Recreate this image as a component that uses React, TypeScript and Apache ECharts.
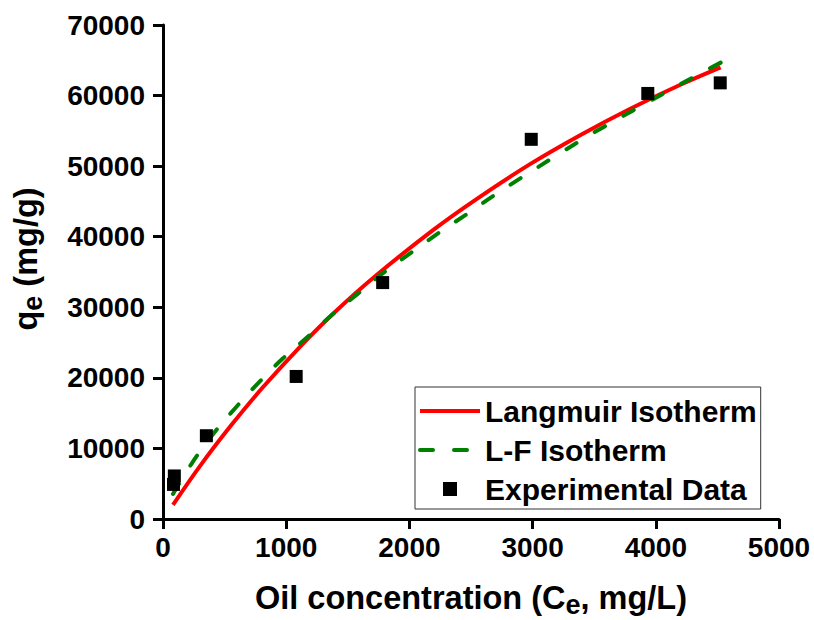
import React, { useEffect, useRef } from 'react';
import * as echarts from 'echarts';

const FONT = "'Liberation Sans', Arial, Helvetica, sans-serif";

// Experimental data (Ce mg/L, qe mg/g)
const expC = [85, 92, 352, 1081, 1783, 2989, 3935, 4523];
const expQ = [4900, 6100, 11800, 20200, 33500, 53800, 60300, 61800];

// Langmuir isotherm curve
const langC = [81, 300, 550, 800, 1106, 1400, 1729, 2189, 2542, 2976, 3382, 3789, 4195, 4526];
const langQ = [2000, 7500, 13200, 18450, 24300, 29400, 34500, 40900, 45300, 50250, 54350, 58100, 61500, 64000];

// L-F isotherm curve
const lfC = [81, 238, 428, 591, 780, 970, 1187, 1363, 1580, 1783, 2027, 2244, 2474, 2691, 2921, 3193, 3463, 3693, 3924, 4168, 4412, 4530];
const lfQ = [3550, 8000, 12500, 15800, 19400, 22700, 26000, 28800, 31900, 34800, 37900, 40600, 43300, 45900, 48500, 51500, 54400, 56700, 58950, 61300, 63600, 64700];

// Axis scales
const xMin = 0, xMax = 5000, xStep = 1000;
const yMin = 0, yMax = 70000, yStep = 10000;

const seriesNames = ['Langmuir Isotherm', 'L-F Isotherm', 'Experimental Data'];

const TICK_LEN = 10;

export default function App() {
  const ref = useRef<HTMLDivElement>(null);
  useEffect(() => {
    if (!ref.current) return;
    const chart = echarts.init(ref.current, undefined, { renderer: 'svg' });
    const baseText = { fontFamily: FONT, fontWeight: 'bold' as const, color: '#000' };
    const nameStyle = {
      ...baseText,
      fontSize: 32.5,
      rich: {
        a: { ...baseText, fontSize: 32.5 },
        b: { ...baseText, fontSize: 27, padding: [14, 0, 0, 0] },
      },
    };
    chart.setOption({
      animation: false,
      backgroundColor: '#fff',
      grid: { left: 163, right: 35, top: 25, bottom: 101, outerBoundsMode: 'none', containLabel: false },
      xAxis: {
        type: 'value',
        min: xMin,
        max: xMax,
        interval: xStep,
        axisLine: { show: true, onZero: false, lineStyle: { color: '#000', width: 3 } },
        axisTick: { show: true, length: TICK_LEN, lineStyle: { color: '#000', width: 3 } },
        splitLine: { show: false },
        axisLabel: { show: true, ...baseText, fontSize: 28, margin: 14, formatter: (v: number) => String(v) },
        name: '{a|Oil concentration (C}{b|e}{a|, mg/L)}',
        nameLocation: 'middle',
        nameGap: 58,
        nameTextStyle: nameStyle,
      },
      yAxis: {
        type: 'value',
        min: yMin,
        max: yMax,
        interval: yStep,
        axisLine: { show: true, onZero: false, lineStyle: { color: '#000', width: 3 } },
        axisTick: { show: true, length: TICK_LEN, lineStyle: { color: '#000', width: 3 } },
        splitLine: { show: false },
        axisLabel: { show: true, ...baseText, fontSize: 28, margin: 18, formatter: (v: number) => String(v) },
        name: '{a|q}{b|e}{a| (mg/g)}',
        nameLocation: 'middle',
        nameRotate: 90,
        nameGap: 117,
        nameTextStyle: { ...nameStyle, padding: [0, 0, 0, 26] },
      },
      legend: {
        left: 415,
        top: 387,
        orient: 'vertical',
        itemWidth: 60,
        itemHeight: 14,
        itemGap: 9,
        padding: [9, 4, 5, 3],
        borderColor: '#333',
        borderWidth: 1,
        backgroundColor: '#fff',
        selectedMode: false,
        symbolKeepAspect: true,
        textStyle: { ...baseText, fontSize: 30 },
        data: [
          { name: seriesNames[0], itemStyle: { opacity: 0 }, lineStyle: { width: 4, color: '#ff0000' } },
          { name: seriesNames[1], itemStyle: { opacity: 0 }, lineStyle: { width: 4, color: '#008000', type: [13, 21] } },
          { name: seriesNames[2], icon: 'path://M0,0h10v10h-10z', symbolKeepAspect: true, itemStyle: { color: '#000', opacity: 1 } },
        ],
      },
      series: [
        {
          name: seriesNames[0],
          type: 'line',
          data: langC.map((c, i) => [c, langQ[i]]),
          symbol: 'none',
          smooth: 0.35,
          lineStyle: { color: '#ff0000', width: 4 },
          itemStyle: { color: '#ff0000' },
          z: 2,
        },
        {
          name: seriesNames[1],
          type: 'line',
          data: lfC.map((c, i) => [c, lfQ[i]]),
          symbol: 'none',
          smooth: 0.35,
          lineStyle: { color: '#008000', width: 4, type: [12, 21], cap: 'round' },
          itemStyle: { color: '#008000' },
          z: 3,
        },
        {
          name: seriesNames[2],
          type: 'scatter',
          data: expC.map((c, i) => [c, expQ[i]]),
          symbol: 'rect',
          symbolSize: 13,
          itemStyle: { color: '#000', opacity: 1 },
          z: 4,
        },
      ],
    });
    return () => chart.dispose();
  }, []);
  return (
    <div
      ref={ref}
      style={{ position: 'absolute', left: 0, top: 0, width: 814, height: 620, background: '#fff' }}
    />
  );
}
